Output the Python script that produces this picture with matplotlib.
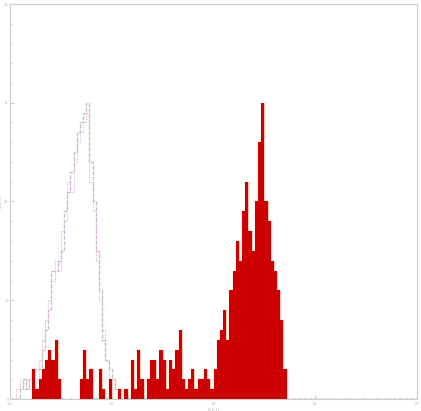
import numpy as np
import matplotlib
matplotlib.use("Agg")
import matplotlib.pyplot as plt

# 128 log bins spanning 10^0 .. 10^4
n_bins = 128
edges = np.logspace(0, 4, n_bins + 1)

red_counts = [0, 0, 0, 0, 0, 0, 0, 3, 1, 2, 3, 4, 5, 4, 6, 2, 0, 0, 0, 0,
              0, 0, 2, 5, 2, 3, 0, 0, 3, 1, 0, 2, 0, 0, 1, 0, 1, 0, 4, 1,
              5, 2, 0, 2, 4, 4, 2, 5, 4, 1, 4, 3, 5, 7, 2, 1, 2, 3, 1, 2,
              2, 3, 2, 1, 3, 6, 7, 9, 6, 11, 13, 16, 14, 19, 22, 17, 15, 20, 26, 30,
              20, 18, 14, 13, 11, 8, 3]
grey_counts = [0, 0, 0, 1, 2, 1, 2, 3, 3, 3, 5, 7, 9, 13, 13, 14, 15, 19, 21, 23,
               25, 27, 28, 29, 30, 24, 20, 15, 11, 6, 4, 3, 2, 1]
pink_counts = [0, 0, 1, 2, 1, 2, 1, 3, 2, 4, 6, 8, 10, 12, 14, 13, 17, 18, 22, 21,
               24, 26, 27, 28, 29, 22, 19, 14, 10, 7, 4, 2, 2, 1]

def pad(v):
    return np.array(v + [0] * (n_bins - len(v)), dtype=float)

red = pad(red_counts)
grey = pad(grey_counts)
pink = pad(pink_counts)

fig = plt.figure(figsize=(4.21, 4.11), dpi=100)
ax = fig.add_axes([10 / 421, 12 / 411, 407 / 421, 395 / 411])

ax.stairs(red, edges, fill=True, color="#cc0000", zorder=3)
ax.stairs(red, edges, color="#f5c8b8", lw=1.0, zorder=2)
ax.stairs(grey, edges, color="#c0c8c0", lw=1.0, ls=(0, (3, 1)), zorder=1)
ax.stairs(pink, edges, color="#e8b0e8", lw=0.8, ls=(0, (1, 1)), zorder=1)

ax.set_xscale("log")
ax.set_xlim(1, 1e4)
ax.set_ylim(0, 40)
ax.set_yticks([0, 10, 20, 30, 40])
ax.set_yticks(np.arange(0, 41, 2), minor=True)
ax.tick_params(which="both", direction="in", colors="#c8d0c8", labelsize=2.5,
               length=3, labelcolor="#b0b8b0", pad=1)
ax.tick_params(which="minor", length=1.5)
for s in ax.spines.values():
    s.set_color("#c8d0c8")
    s.set_linewidth(0.8)
ax.set_xlabel("FL2-H", fontsize=3, color="#b0b8b0", labelpad=0)
ax.set_ylabel("Counts", fontsize=3, color="#b0b8b0", labelpad=1)

fig.savefig("out.png", dpi=100)
